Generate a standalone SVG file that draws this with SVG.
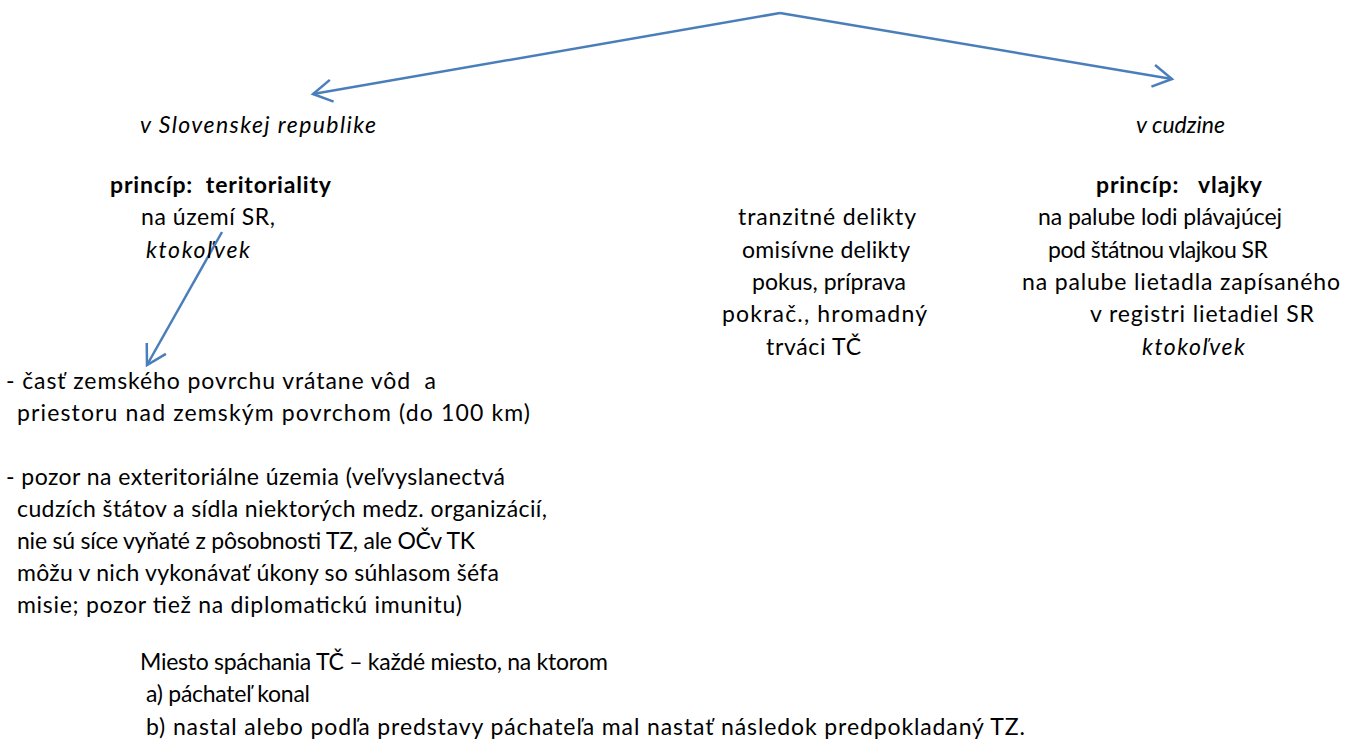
<svg xmlns="http://www.w3.org/2000/svg" width="1345" height="739" viewBox="0 0 1345 739">
<style>
text{font-family:Lato,"Liberation Sans",sans-serif;font-size:23px;fill:#000}
.i{font-style:italic}
.b{font-weight:bold}
.c{fill:none;stroke:#4A7EBB;stroke-width:2.5}
</style>
<defs>
<marker id="ah" markerUnits="userSpaceOnUse" markerWidth="30" markerHeight="30" refX="0" refY="0" viewBox="-22 -15 30 30" orient="auto" overflow="visible">
<path d="M-19,-11 L0,0 L-19,11" fill="none" stroke="#4A7EBB" stroke-width="2.5"/>
</marker>
</defs>
<rect width="1345" height="739" fill="#fff"/>
<g id="connectors">
<path class="c" d="M780,13 L313,94" marker-end="url(#ah)"/>
<path class="c" d="M780,13 L1172,79" marker-end="url(#ah)"/>
<path class="c" d="M222,232 L147,365" marker-end="url(#ah)"/>
</g>
<g id="sr">
<text class="i" x="140" y="133" textLength="236">v Slovenskej republike</text>
</g>
<g id="cudzina">
<text class="i" x="1136" y="133" textLength="89">v cudzine</text>
</g>
<g id="teritorialita">
<text class="b" x="110" y="193" textLength="221" xml:space="preserve">princíp:  teritoriality</text>
<text x="141" y="225" textLength="134">na území SR,</text>
<text class="i" x="146" y="258" textLength="104">ktokoľvek</text>
</g>
<g id="delikty">
<text x="738" y="225" textLength="178">tranzitné delikty</text>
<text x="742" y="258" textLength="168">omisívne delikty</text>
<text x="752" y="290" textLength="154">pokus, príprava</text>
<text x="722" y="322" textLength="205">pokrač., hromadný</text>
<text x="766" y="355" textLength="95">trváci TČ</text>
</g>
<g id="vlajka">
<text class="b" x="1096" y="193" textLength="166" xml:space="preserve">princíp:   vlajky</text>
<text x="1038" y="225" textLength="244">na palube lodi plávajúcej</text>
<text x="1048" y="258" textLength="220">pod štátnou vlajkou SR</text>
<text x="1022" y="290" textLength="318">na palube lietadla zapísaného</text>
<text x="1090" y="322" textLength="224">v registri lietadiel SR</text>
<text class="i" x="1142" y="355" textLength="103">ktokoľvek</text>
</g>
<g id="uzemie">
<text x="6" y="389" textLength="430" xml:space="preserve">- časť zemského povrchu vrátane vôd  a</text>
<text x="17" y="421" textLength="513">priestoru nad zemským povrchom (do 100 km)</text>
<text x="6" y="485" textLength="499">- pozor na exteritoriálne územia (veľvyslanectvá</text>
<text x="17" y="517" textLength="530">cudzích štátov a sídla niektorých medz. organizácií,</text>
<text x="17" y="549" textLength="458">nie sú síce vyňaté z pôsobnosti TZ, ale OČv TK</text>
<text x="17" y="581" textLength="482">môžu v nich vykonávať úkony so súhlasom šéfa</text>
<text x="17" y="613" textLength="445">misie; pozor tiež na diplomatickú imunitu)</text>
</g>
<g id="miesto">
<text x="140" y="670" textLength="468">Miesto spáchania TČ – každé miesto, na ktorom</text>
<text x="146" y="702" textLength="164">a) páchateľ konal</text>
<text x="146" y="735" textLength="879">b) nastal alebo podľa predstavy páchateľa mal nastať následok predpokladaný TZ.</text>
</g>
</svg>
